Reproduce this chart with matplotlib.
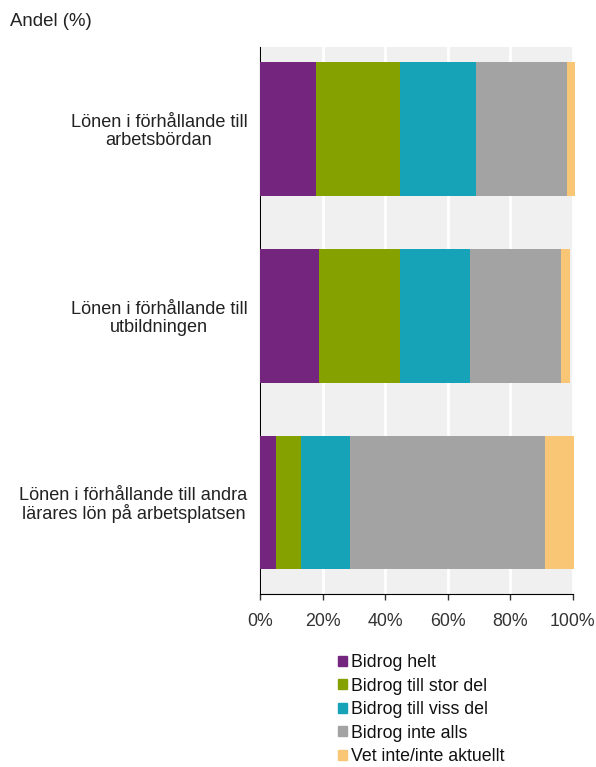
import matplotlib.pyplot as plt
from matplotlib.patches import Patch
from matplotlib.ticker import PercentFormatter

plt.rcParams["font.family"] = ["Liberation Sans", "DejaVu Sans"]

# data
categories = [
    "Lönen i förhållande till\narbetsbördan",
    "Lönen i förhållande till\nutbildningen",
    "Lönen i förhållande till andra\nlärares lön på arbetsplatsen",
]
series = ["Bidrog helt", "Bidrog till stor del", "Bidrog till viss del",
          "Bidrog inte alls", "Vet inte/inte aktuellt"]
helt = [17.8, 19.0, 5.0]
stor = [27.1, 25.9, 8.0]
viss = [24.1, 22.2, 15.9]
inte = [29.2, 29.1, 62.3]
vet = [2.4, 2.8, 9.0]
colors = ["#74267e", "#84a100", "#17a3b7", "#a3a3a3", "#f9c675"]

fig = plt.figure(figsize=(5.96, 7.67), dpi=100)
ax = fig.add_axes([0.4362, 0.2256, 0.525, 0.713])
ax.set_facecolor("#f0f0f0")

ypos = list(range(len(categories)))
left = [0, 0, 0]
for vals, col in zip([helt, stor, viss, inte, vet], colors):
    ax.barh(ypos, vals, left=left, height=0.715, color=col, zorder=3,
            clip_on=False)
    left = [a + b for a, b in zip(left, vals)]

ax.set_xlim(0, 100)
ax.set_ylim(2.49, -0.44)
ax.set_xticks([0, 20, 40, 60, 80, 100])
ax.xaxis.set_major_formatter(PercentFormatter(decimals=0))
ax.grid(axis="x", color="white", linewidth=2, zorder=1)
ax.set_yticks(ypos)
ax.set_yticklabels(categories, fontsize=13.1, color="#222222",
                   multialignment="center", linespacing=1.05)
ax.tick_params(axis="y", length=0, pad=9)
ax.tick_params(axis="x", length=4, width=1, colors="#333333",
               labelsize=12.8, pad=10)
for s in ["top", "right"]:
    ax.spines[s].set_visible(False)
ax.spines["left"].set_color("black")
ax.spines["bottom"].set_color("black")

fig.text(10 / 596, 1 - 22 / 767, "Andel (%)", fontsize=13.4,
         color="#222222", va="center")

handles = [Patch(color=c, label=s) for c, s in zip(colors, series)]
fig.legend(handles=handles, loc="upper left",
           bbox_to_anchor=(338 / 596, 1 - 654 / 767), frameon=False,
           fontsize=12.8, handlelength=0.5, handleheight=0.5,
           handletextpad=0.25, labelspacing=0.37, borderpad=0,
           borderaxespad=0, labelcolor="#111111")

fig.savefig("out.png", dpi=100)
